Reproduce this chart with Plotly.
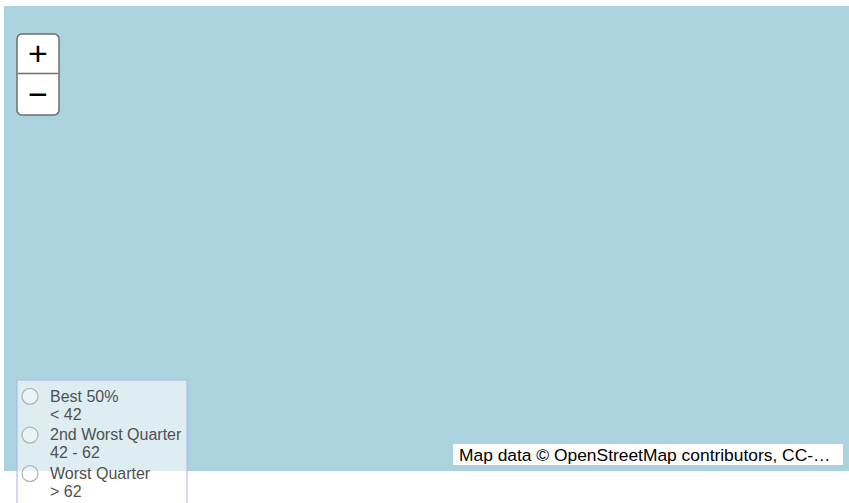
import math
import plotly.graph_objects as go

# ---- data ----
category_names = ["Best 50%", "2nd Worst Quarter", "Worst Quarter"]
category_ranges = ["< 42", "42 - 62", "> 62"]
category_lon = [[None], [None], [None]]
category_lat = [[None], [None], [None]]
attribution_text = "Map data © OpenStreetMap contributors, CC-…"

W, H = 849, 503
ML, MR, MT, MB = 4, 0, 6, 32
PW, PH = W - ML - MR, H - MT - MB


def px(x):
    return (x - ML) / PW


def py(y):
    return (H - MB - y) / PH


def rounded_rect_path(x0, y0, x1, y1, r):
    def arc(cx, cy, a0, a1):
        out = []
        for i in range(7):
            a = math.radians(a0 + (a1 - a0) * i / 6)
            out.append((cx + r * math.cos(a), cy + r * math.sin(a)))
        return out
    pts = []
    pts += arc(x1 - r, y0 + r, -90, 0)
    pts += arc(x1 - r, y1 - r, 0, 90)
    pts += arc(x0 + r, y1 - r, 90, 180)
    pts += arc(x0 + r, y0 + r, 180, 270)
    return "M " + " L ".join(f"{px(a):.5f},{py(b):.5f}" for a, b in pts) + " Z"


fig = go.Figure()
for name, rng, lon, lat in zip(category_names, category_ranges, category_lon, category_lat):
    fig.add_trace(go.Scatter(
        x=lon, y=lat, mode="markers",
        name=f"<span style='font-size:16px'>{name}<br>{rng}</span>",
        marker=dict(symbol="circle", size=16, color="rgba(255,255,255,0.4)",
                    line=dict(color="#b4b4b4", width=1.3)),
    ))

shapes = [
    # legend panel
    dict(type="rect", xref="paper", yref="paper",
         x0=px(17), x1=px(187), y0=py(380), y1=py(520),
         fillcolor="rgba(255,255,255,0.6)", line=dict(color="#a9b1ec", width=1),
         layer="above"),
    # zoom control
    dict(type="path", xref="paper", yref="paper",
         path=rounded_rect_path(17, 34, 59, 115, 5),
         fillcolor="white", line=dict(color="#6e6e6e", width=1.5), layer="above"),
    dict(type="line", xref="paper", yref="paper",
         x0=px(18), x1=px(58), y0=py(73.5), y1=py(73.5),
         line=dict(color="#6e6e6e", width=1.5), layer="above"),
    # attribution box
    dict(type="rect", xref="paper", yref="paper",
         x0=px(453), x1=px(843), y0=py(444), y1=py(465),
         fillcolor="white", line=dict(width=0), layer="above"),
]

annotations = [
    dict(text="+", x=px(38), y=py(53), xref="paper", yref="paper",
         showarrow=False, xanchor="center", yanchor="middle",
         font=dict(family="Liberation Sans, Arial", size=34, color="black")),
    dict(text="−", x=px(38), y=py(94), xref="paper", yref="paper",
         showarrow=False, xanchor="center", yanchor="middle",
         font=dict(family="Liberation Sans, Arial", size=34, color="black")),
    dict(text=attribution_text, x=px(457), y=py(455), xref="paper", yref="paper",
         showarrow=False, xanchor="left", yanchor="middle",
         font=dict(family="Liberation Sans, Arial", size=17.4, color="black")),
]

fig.update_layout(
    width=W, height=H,
    margin=dict(l=ML, r=MR, t=MT, b=MB, autoexpand=False),
    paper_bgcolor="white",
    plot_bgcolor="#aad3df",
    xaxis=dict(visible=False, range=[-10, 10]),
    yaxis=dict(visible=False, range=[-5, 5]),
    shapes=shapes,
    annotations=annotations,
    showlegend=True,
    legend=dict(
        xref="container", yref="container",
        x=10 / W, y=1 - 381 / H, xanchor="left", yanchor="top",
        bgcolor="rgba(0,0,0,0)", borderwidth=0,
        font=dict(family="Liberation Sans, Arial", size=13.7, color="#505050"),
        itemsizing="trace", valign="top",
    ),
)

fig.write_html("out.html", config={"displayModeBar": False},
               post_script="document.body.style.margin='0';")
